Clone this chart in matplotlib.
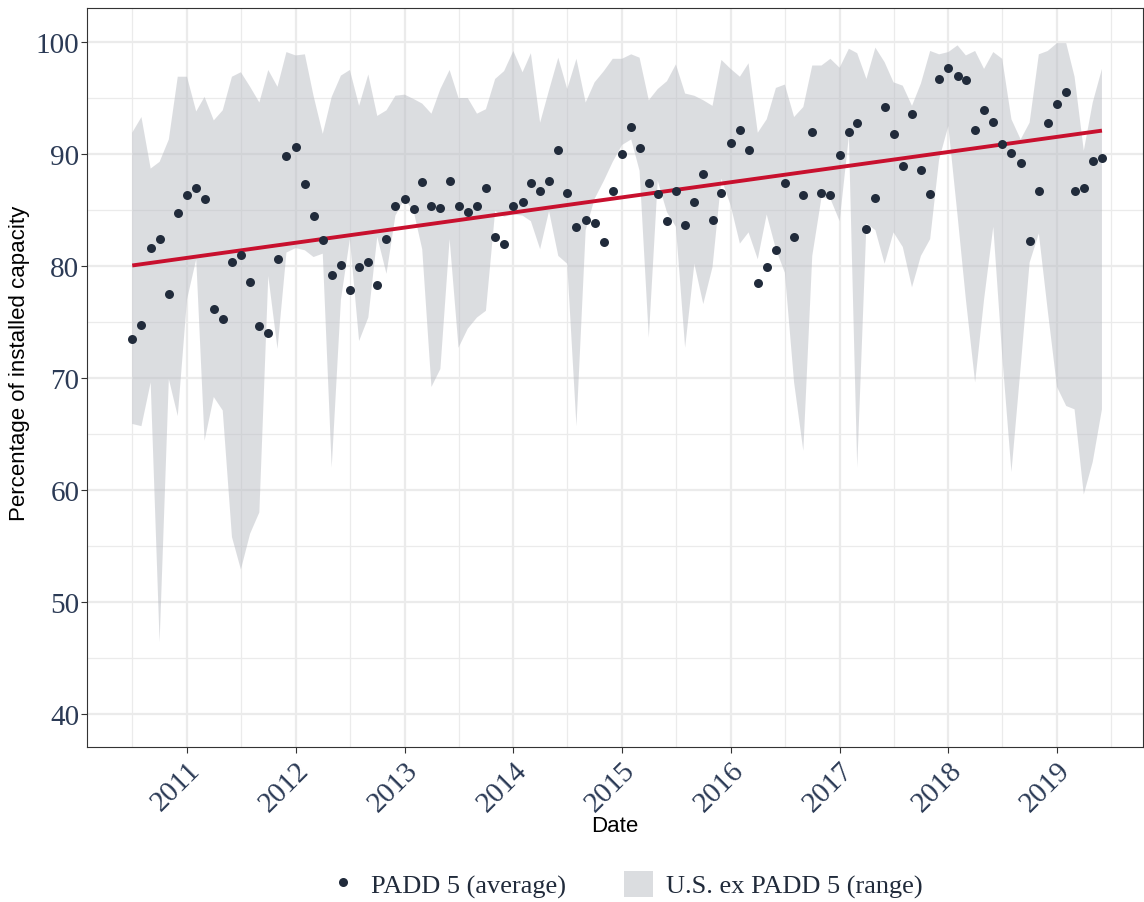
import numpy as np
import pandas as pd
import matplotlib
matplotlib.use("Agg")
import matplotlib.pyplot as plt
import matplotlib.dates as mdates
from matplotlib.lines import Line2D
from matplotlib.patches import Patch

# ---- data (monthly, Jul 2010 - Jun 2019) ----
dates = pd.date_range("2010-07-01", periods=108, freq="MS")

padd5_avg = [
    73.5, 74.7, 81.6, 82.4, 77.5, 84.7, 86.3, 87.0, 86.0, 76.2, 75.3, 80.4,
    81.0, 78.6, 74.6, 74.0, 80.6, 89.8, 90.6, 87.3, 84.5, 82.3, 79.2, 80.1,
    77.9, 79.9, 80.4, 78.3, 82.4, 85.4, 86.0, 85.1, 87.5, 85.4, 85.2, 87.6,
    85.4, 84.8, 85.4, 87.0, 82.6, 82.0, 85.4, 85.7, 87.4, 86.7, 87.6, 90.4,
    86.5, 83.5, 84.1, 83.8, 82.1, 86.7, 90.0, 92.4, 90.5, 87.4, 86.4, 84.0,
    86.7, 83.7, 85.7, 88.2, 84.1, 86.5, 91.0, 92.1, 90.4, 78.5, 79.9, 81.4,
    87.4, 82.6, 86.3, 92.0, 86.5, 86.3, 89.9, 92.0, 92.8, 83.3, 86.1, 94.2,
    91.8, 88.9, 93.6, 88.6, 86.4, 96.7, 97.7, 97.0, 96.6, 92.1, 93.9, 92.9,
    90.9, 90.1, 89.2, 82.2, 86.7, 92.8, 94.5, 95.5, 86.7, 87.0, 89.4, 89.6,
]

range_high = [
    91.9, 93.3, 88.7, 89.3, 91.3, 96.9, 96.9, 93.8, 95.1, 93.0, 93.9, 96.9,
    97.3, 96.0, 94.6, 97.5, 96.0, 99.1, 98.8, 98.9, 95.2, 91.8, 95.1, 97.0,
    97.5, 94.3, 97.1, 93.4, 93.9, 95.2, 95.3, 94.9, 94.5, 93.6, 95.8, 97.5,
    95.0, 95.0, 93.6, 94.0, 96.7, 97.4, 99.2, 97.3, 99.0, 92.8, 95.7, 98.6,
    95.8, 98.5, 94.6, 96.4, 97.4, 98.5, 98.5, 98.9, 98.6, 94.8, 95.8, 96.5,
    98.0, 95.4, 95.2, 94.8, 94.3, 98.4, 97.6, 96.9, 98.1, 91.9, 93.1, 95.9,
    96.2, 93.3, 94.2, 97.9, 97.9, 98.5, 97.7, 99.4, 99.0, 96.7, 99.5, 98.2,
    96.4, 96.1, 94.3, 96.3, 99.2, 98.9, 99.1, 99.7, 98.8, 99.2, 97.6, 99.1,
    98.5, 93.1, 91.3, 92.8, 98.9, 99.2, 99.9, 99.9, 96.9, 90.3, 94.6, 97.6,
]

range_low = [
    65.9, 65.7, 69.6, 46.4, 69.9, 66.6, 77.0, 80.6, 64.4, 68.3, 67.1, 55.8,
    52.9, 56.1, 58.0, 79.1, 72.6, 81.2, 81.6, 81.4, 80.8, 81.1, 62.0, 77.0,
    82.4, 73.3, 75.4, 82.6, 79.3, 84.5, 86.0, 84.8, 81.5, 69.2, 70.8, 82.4,
    72.7, 74.4, 75.4, 76.0, 84.9, 84.4, 84.6, 84.5, 84.0, 81.5, 84.9, 80.9,
    80.2, 65.7, 83.2, 86.0, 87.6, 89.3, 90.8, 91.3, 88.5, 73.6, 87.6, 84.8,
    83.5, 72.7, 80.2, 76.6, 79.9, 87.8, 85.4, 82.0, 83.0, 80.6, 84.6, 81.5,
    79.4, 69.6, 63.5, 80.9, 86.1, 86.0, 84.0, 91.6, 62.0, 83.8, 83.2, 80.2,
    83.0, 81.7, 78.1, 80.9, 82.4, 89.5, 92.5, 84.5, 77.0, 69.6, 77.0, 83.5,
    72.0, 61.6, 71.0, 80.3, 82.9, 76.0, 69.2, 67.5, 67.2, 59.6, 62.5, 67.2,
]

y_ticks = [40, 50, 60, 70, 80, 90, 100]
year_ticks = list(range(2011, 2020))

# ---- styling ----
NAVY = "#212B3B"
TICK_COL = "#2B3A55"
RED = "#C8102E"
serif = ["Liberation Serif", "DejaVu Serif"]
sans = ["Liberation Sans", "DejaVu Sans"]

fig = plt.figure(figsize=(11.44, 9.03), dpi=100)
ax = fig.add_axes([87 / 1144, 1 - 748 / 903, (1143 - 87) / 1144, (748 - 9) / 903])

x = mdates.date2num(dates)

# grid
ax.set_axisbelow(True)
ax.grid(which="major", color="#EBEBEB", linewidth=1.6, zorder=0)
ax.grid(which="minor", color="#EBEBEB", linewidth=0.9, zorder=0)

ax.fill_between(x, range_low, range_high, facecolor="#B9BCC3", alpha=0.5,
                linewidth=0, zorder=1)

# linear trend
coef = np.polyfit(x, padd5_avg, 1)
ax.plot(x, np.polyval(coef, x), color=RED, linewidth=2.8, zorder=3,
        solid_capstyle="butt")

ax.scatter(x, padd5_avg, s=42, color=NAVY, zorder=4, linewidths=0)

# axes limits
x0 = mdates.date2num(pd.Timestamp("2011-01-01"))
x1 = mdates.date2num(pd.Timestamp("2019-01-01"))
ppd = (1057 - 187) / (x1 - x0)
ax.set_xlim(x0 - (187 - 87) / ppd, x0 + (1143 - 187) / ppd)
ax.set_ylim(40 - (748 - 715) / 11.2, 100 + (43 - 9) / 11.2)

ax.set_xticks([mdates.date2num(pd.Timestamp(f"{y}-01-01")) for y in year_ticks])
ax.set_xticklabels([str(y) for y in year_ticks], rotation=45, ha="right",
                   rotation_mode="anchor", family=serif, fontsize=21, color=TICK_COL)
ax.set_xticks([mdates.date2num(pd.Timestamp(f"{y}-07-01")) for y in range(2010, 2020)],
              minor=True)
ax.set_yticks(y_ticks)
ax.set_yticklabels([str(v) for v in y_ticks], family=serif, fontsize=21, color=TICK_COL)
ax.set_yticks([45, 55, 65, 75, 85, 95], minor=True)

ax.tick_params(which="major", length=4, width=0.8, color="#333333", pad=3)
ax.tick_params(axis="y", which="major", pad=1.5)
ax.tick_params(which="minor", length=0)
for s in ax.spines.values():
    s.set_color("#333333")
    s.set_linewidth(0.8)

ax.set_xlabel("Date", family=sans, fontsize=16, color="black")
ax.xaxis.set_label_coords(0.5, -(827 - 748) / 739)
ax.set_ylabel("Percentage of installed capacity", family=sans, fontsize=16,
              color="black", va="center")
ax.yaxis.set_label_coords(-(87 - 20) / 1056, (748 - 363) / 739)
ax.xaxis.label.set_va("center")

handles = [
    Line2D([0], [0], marker="o", linestyle="none", markersize=6.5,
           markerfacecolor=NAVY, markeredgewidth=0),
    Patch(facecolor="#B9BCC3", alpha=0.5, edgecolor="none"),
]
leg = fig.legend(handles, ["PADD 5 (average)", "U.S. ex PADD 5 (range)"],
                 loc="center", bbox_to_anchor=(0.547, 0.019), ncol=2,
                 frameon=False, prop={"family": serif, "size": 19},
                 handlelength=1.1, handleheight=1.1, columnspacing=2.2,
                 handletextpad=0.5)
for t in leg.get_texts():
    t.set_color(NAVY)

fig.savefig("out.png", dpi=100)
